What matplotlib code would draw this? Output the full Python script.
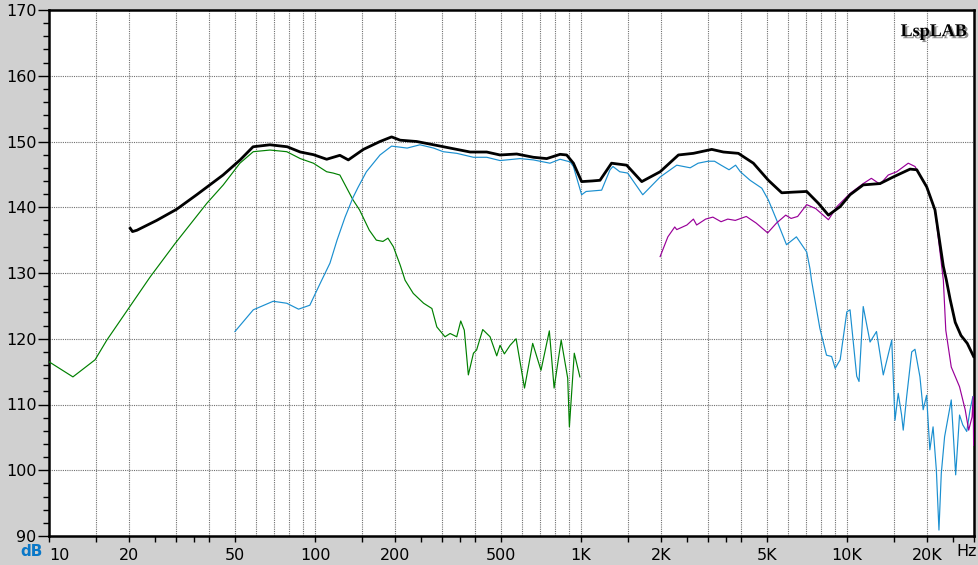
import matplotlib.pyplot as plt
import matplotlib.patheffects as pe
from matplotlib.ticker import FixedLocator, NullFormatter
import numpy as np

# total response (black)
bk_f = [20.2, 20.6, 21.4, 25.4, 30.2, 35.9, 45.1, 52.3, 58.5, 67.7, 78.6, 88, 98.6, 110.6, 124,
        133.4, 152, 175.5, 194, 209, 241, 279, 322, 383, 442, 496, 573, 662, 743, 834, 883, 936,
        1005, 1100, 1178, 1302, 1484, 1691, 1983, 2323, 2645, 3099, 3429, 3902, 4444, 5060, 5680,
        6280, 7050, 7800, 8510, 9420, 10260, 11500, 13300, 14900, 17250, 18280, 19920, 21400,
        23010, 23600, 24400, 25500, 26800, 28300, 29900]
bk_db = [136.8, 136.3, 136.5, 138.0, 139.7, 141.9, 144.9, 147.2, 149.2, 149.5, 149.2, 148.4, 148.0,
         147.3, 147.9, 147.2, 148.8, 150.0, 150.7, 150.2, 150.0, 149.5, 149.0, 148.4, 148.4, 147.95,
         148.1, 147.6, 147.4, 148.05, 147.95, 146.7, 143.9, 144.0, 144.1, 146.7, 146.4, 143.9, 145.4,
         147.95, 148.2, 148.8, 148.4, 148.2, 146.7, 144.1, 142.2, 142.3, 142.4, 140.6, 138.8, 140.1,
         141.9, 143.4, 143.6, 144.6, 145.8, 145.7, 143.1, 139.6, 131.0, 129.0, 126.0, 122.5, 120.5,
         119.3, 117.3]

# woofer (green)
gr_f = [10, 12.3, 14.9, 16.5, 19.9, 24, 29.8, 39.2, 45.2, 52.2, 58.6, 67.7, 78.3, 88, 98.6, 110.6,
        117, 124, 139, 147, 160, 170, 180, 188, 197, 209, 218, 234, 256, 275, 287, 308, 322, 341,
        353, 364, 377, 394, 405, 427, 455, 482, 496, 515, 541, 570, 613, 658, 707, 760, 792, 842,
        891, 904, 943, 990]
gr_db = [116.5, 114.2, 116.8, 119.8, 124.6, 129.4, 134.5, 140.6, 143.4, 146.7, 148.45, 148.7, 148.45,
         147.4, 146.7, 145.4, 145.2, 144.9, 141.1, 139.6, 136.5, 135.0, 134.8, 135.3, 134.0, 131.2,
         128.9, 126.9, 125.4, 124.6, 121.8, 120.3, 120.8, 120.3, 122.7, 121.3, 114.5, 117.8, 118.3,
         121.4, 120.3, 117.4, 119.0, 117.7, 119.0, 120.0, 112.5, 119.3, 115.2, 121.2, 112.5, 119.8,
         114.0, 106.6, 117.8, 114.2]

# midrange (blue)
bl_f = [50, 58.6, 69.6, 78.3, 86.7, 95.6, 104.5, 113.8, 121, 129.7, 139, 145, 156, 175.5, 194, 222,
        248, 279, 303, 341, 394, 442, 496, 590, 662, 764, 834, 910, 936, 1005, 1045, 1195, 1285,
        1318, 1398, 1497, 1706, 1983, 2290, 2572, 2755, 3000, 3175, 3360, 3600, 3810, 3970, 4320,
        4780, 5060, 5430, 5920, 6450, 7050, 7250, 7350, 7900, 8370, 8750, 9020, 9420, 9980, 10260,
        10870, 11090, 11500, 12200, 12900, 13680, 14720, 15140, 15570, 16030, 16260, 16750, 17500,
        18000, 18790, 19320, 19900, 20470, 21050, 21660, 22150, 22600, 23260, 24640, 25600, 26470,
        27220, 28170, 29000, 29700]
bl_db = [121.1, 124.4, 125.7, 125.4, 124.5, 125.1, 128.4, 131.5, 135.0, 138.5, 141.5, 143.0, 145.4,
         147.95, 149.3, 149.0, 149.5, 149.0, 148.45, 148.2, 147.6, 147.6, 147.1, 147.4, 147.2, 146.7,
         147.3, 146.9, 146.2, 141.9, 142.4, 142.6, 145.7, 146.2, 145.4, 145.2, 141.9, 144.6, 146.4,
         146.0, 146.7, 147.0, 147.0, 146.4, 145.7, 146.4, 145.4, 144.1, 142.9, 141.1, 138.1, 134.3,
         135.5, 133.2, 130.7, 128.9, 121.6, 117.5, 117.3, 115.5, 116.8, 124.1, 124.4, 114.3, 113.5,
         124.9, 119.5, 121.1, 114.5, 119.8, 107.6, 111.7, 108.4, 106.1, 111.2, 118.0, 118.4, 114.2,
         109.2, 111.4, 103.1, 106.6, 100.0, 90.9, 99.5, 105.1, 110.7, 99.3, 108.4, 106.9, 105.9,
         109.2, 111.2]

# tweeter (purple)
pu_f = [1983, 2120, 2250, 2290, 2500, 2645, 2720, 2940, 3130, 3360, 3560, 3800, 4180, 4550, 5030,
        5430, 5880, 6160, 6520, 7050, 7620, 8510, 9160, 10260, 11500, 12340, 13300, 14280, 15370,
        16980, 18000, 19920, 21400, 23010, 23500, 24640, 26470, 27800, 28650, 29500, 29800, 29900]
pu_db = [132.5, 135.5, 137.0, 136.6, 137.3, 138.2, 137.3, 138.2, 138.5, 137.8, 138.2, 138.0, 138.6,
         137.6, 136.1, 137.6, 138.8, 138.3, 138.6, 140.4, 139.8, 138.1, 140.1, 142.1, 143.6, 144.4,
         143.5, 144.9, 145.4, 146.7, 146.2, 143.1, 139.6, 128.9, 121.3, 115.7, 112.7, 109.2, 106.1,
         108.1, 111.2, 103.8]

x_major = [10, 20, 50, 100, 200, 500, 1000, 2000, 5000, 10000, 20000]
x_labels = ['10', '20', '50', '100', '200', '500', '1K', '2K', '5K', '10K', '20K']

fig = plt.figure(figsize=(9.79, 5.65), dpi=100)
fig.patch.set_facecolor('#d0d0d0')
ax = fig.add_axes([49/979, 1 - 536/565, 925/979, 526/565])
ax.set_facecolor('white')

decades = [10, 100, 1000, 10000]
grid_x = [d * m for d in decades for m in [1.5, 2, 3, 4, 5, 6, 7, 8, 9, 10]]
for gx in grid_x:
    if gx < 30000:
        ax.axvline(gx, color='#707070', lw=0.8, ls=(0, (1, 1)), zorder=1)
for gy in range(100, 170, 10):
    ax.axhline(gy, color='#707070', lw=0.8, ls=(0, (1, 1)), zorder=1)

ax.plot(gr_f, gr_db, color='#008000', lw=0.85, zorder=3)
ax.plot(bl_f, bl_db, color='#1a8fd0', lw=0.85, zorder=3)
ax.plot(pu_f, pu_db, color='#990099', lw=0.85, zorder=4)
ax.plot(bk_f, bk_db, color='black', lw=2.0, zorder=5)

ax.set_xscale('log')
ax.set_xlim(10, 30000)
ax.set_ylim(90, 170)

ax.xaxis.set_major_locator(FixedLocator(x_major))
ax.set_xticklabels(x_labels)
ax.xaxis.set_minor_locator(FixedLocator([d * m for d in decades for m in [1.5, 2.5, 3, 3.5, 4]]))
ax.xaxis.set_minor_formatter(NullFormatter())
ax.set_yticks(range(90, 171, 10))
ax.set_yticks(range(90, 171, 2), minor=True)

ax.tick_params(axis='y', which='major', length=8, width=1, pad=1, labelsize=11.5)
ax.tick_params(axis='y', which='minor', length=4, width=1)
ax.tick_params(axis='x', which='both', length=4, width=1, pad=5, labelsize=11.5)
ax.get_xticklabels()[0].set_horizontalalignment('left')

for s in ax.spines.values():
    s.set_linewidth(1.8)

fig.text(20/979, 1 - 551/565, 'dB', color='#0a78c8', fontsize=11, fontweight='bold',
         ha='left', va='center')
fig.text(956/979, 1 - 551/565, 'Hz', color='black', fontsize=11.5, ha='left', va='center')

ax.text(0.992, 0.975, 'LspLAB', transform=ax.transAxes, ha='right', va='top',
        family='Liberation Serif', fontweight='bold', fontsize=13, zorder=6,
        path_effects=[pe.withSimplePatchShadow(offset=(1.5, -1.5), shadow_rgbFace='#808080', alpha=0.9)])

fig.savefig('out.png', dpi=100, facecolor=fig.get_facecolor())
